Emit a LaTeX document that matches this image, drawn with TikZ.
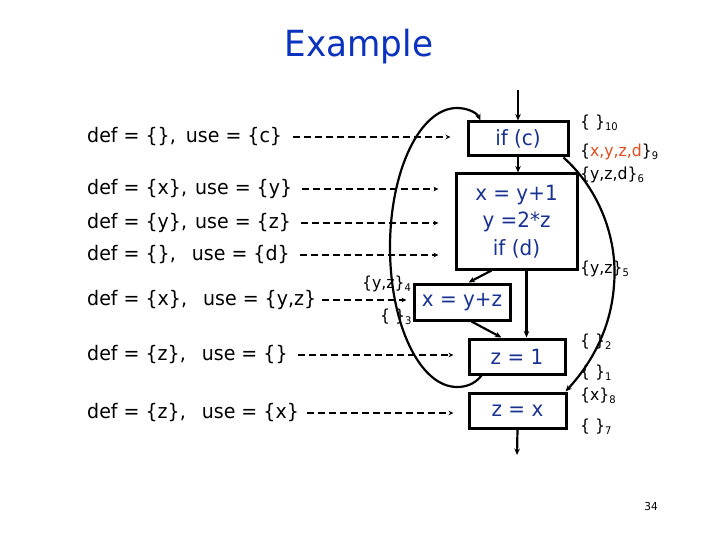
\documentclass[tikz,border=0pt]{standalone}
\usepackage{fontspec}
\setmainfont{DejaVu Sans}[FakeStretch=0.95]
\usetikzlibrary{arrows.meta,calc}
\definecolor{titleblue}{RGB}{10,50,190}
\definecolor{boxblue}{RGB}{25,50,145}
\definecolor{setred}{RGB}{225,75,30}
\newcommand\setsub[1]{\raisebox{-0.35ex}{\fontsize{10.5}{10.5}\selectfont #1}}
\begin{document}
\begin{tikzpicture}[x=1pt,y=-1pt,
  cfgbox/.style={draw, line width=3pt, text=boxblue, font=\fontsize{21}{27.5}\selectfont, align=center, inner sep=0pt},
  flow/.style={line width=2.2pt, -{Stealth[length=6.5pt,width=5.5pt]}},
  info/.style={font=\fontsize{20}{22}\selectfont, anchor=west, inner sep=0pt},
  defuse/.style={dash pattern=on 7pt off 4pt, line width=1.5pt, -{Stealth[length=5pt,width=4.5pt]}},
  setlbl/.style={font=\fontsize{16.5}{18}\selectfont, anchor=west, inner sep=0pt}]
\useasboundingbox (0,0) rectangle (720,540);
\node[text=titleblue, font=\fontsize{36}{40}\selectfont] (title) at (359,47) {Example};
% blocks
\node[cfgbox, minimum width=100pt, minimum height=34pt] (ifc) at (518,139) {if (c)};
\node[cfgbox, minimum width=121pt, minimum height=95pt] (b2) at (516.5,221.5) {x = y+1\\y =2*z\\if (d)};
\node[cfgbox, minimum width=96pt, minimum height=36pt] (b3) at (462,302) {x = y+z};
\node[cfgbox, minimum width=96pt, minimum height=35pt] (b4) at (517,356.5) {z = 1};
\node[cfgbox, minimum width=97pt, minimum height=35pt] (b5) at (517.5,410.5) {z = x};
% def/use
\node[info] (d1) at (87,137) {def = \{\},\hspace{0.5em}use = \{c\}};
\node[info] (d2) at (87,189) {def = \{x\},\hspace{0.4em}use = \{y\}};
\node[info] (d3) at (87,223) {def = \{y\},\hspace{0.4em}use = \{z\}};
\node[info] (d4) at (87,255) {def = \{\},\hspace{0.8em}use = \{d\}};
\node[info] (d5) at (87,300) {def = \{x\},\hspace{0.8em}use = \{y,z\}};
\node[info] (d6) at (87,355) {def = \{z\},\hspace{0.8em}use = \{\}};
\node[info] (d7) at (87,413) {def = \{z\},\hspace{0.8em}use = \{x\}};
\draw[defuse] ([xshift=11pt]d1.east) -- ([xshift=-16pt]d1.east -| ifc.west);
\draw[defuse] ([xshift=10pt]d2.east) -- ([xshift=-16pt]d2.east -| b2.west);
\draw[defuse] ([xshift=10pt]d3.east) -- ([xshift=-16pt]d3.east -| b2.west);
\draw[defuse] ([xshift=10pt]d4.east) -- ([xshift=-16pt]d4.east -| b2.west);
\draw[defuse] ([xshift=6pt]d5.east) -- ([xshift=-6pt]d5.east -| b3.west);
\draw[defuse] ([xshift=10pt]d6.east) -- ([xshift=-14pt]d6.east -| b4.west);
\draw[defuse] ([xshift=8pt]d7.east) -- ([xshift=-14pt]d7.east -| b5.west);
% set labels
\node[setlbl] (s10) at (580,123) {\{ \}\setsub{10}};
\node[setlbl] (s9) at (580,152) {\{\textcolor{setred}{x,y,z,d}\}\setsub{9}};
\node[setlbl] (s6) at (580,175) {\{y,z,d\}\setsub{6}};
\node[setlbl] (s5) at (580,269) {\{y,z\}\setsub{5}};
\node[setlbl] (s4) at (362,284) {\{y,z\}\setsub{4}};
\node[setlbl] (s3) at (380,317) {\{ \}\setsub{3}};
\node[setlbl] (s2) at (580,342) {\{ \}\setsub{2}};
\node[setlbl] (s1) at (580,373) {\{ \}\setsub{1}};
\node[setlbl] (s8) at (580,396) {\{x\}\setsub{8}};
\node[setlbl] (s7) at (580,427) {\{ \}\setsub{7}};
\node[font=\fontsize{11}{12}\selectfont] (pg) at (651,506) {34};
% flow edges
\coordinate (entry) at (518,90);
\coordinate (exit) at (517,455);
\draw[flow] (entry) -- (ifc.north);
\draw[flow] (ifc.south) -- (ifc.south |- b2.north);
\draw[flow] ([xshift=37pt]b2.south west) -- ([xshift=56pt]b3.north west);
\draw[flow] ([xshift=72pt]b2.south west) -- ([xshift=72pt]b2.south west |- b4.north);
\draw[flow] ([xshift=59pt]b3.south west) -- ([xshift=34pt]b4.north west);
\draw[flow] (b5.south) -- (exit);
\draw[flow] ([xshift=14pt]b4.south west) .. controls (475,384) and (466,387) .. (457,387)
  .. controls (420,387) and (390,324.5) .. (390,247.5)
  .. controls (390,170.5) and (420,108) .. (457,108)
  .. controls (468,108) and (477,113) .. ([xshift=14pt]ifc.north west);
\draw[flow] ([xshift=-6pt]ifc.south east) .. controls (600,190) and (618,240) .. (614,285)
  .. controls (611,330) and (590,365) .. ([xshift=-2pt]b5.north east);
\end{tikzpicture}
\end{document}
